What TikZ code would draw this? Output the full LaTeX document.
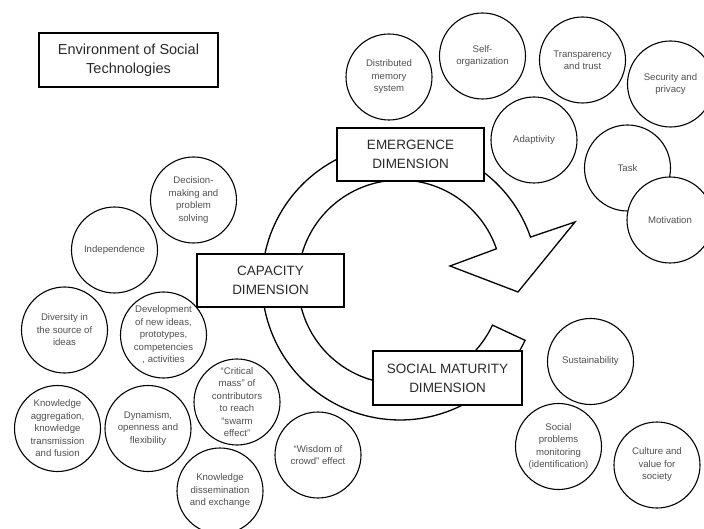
\documentclass[tikz,border=0pt]{standalone}
\usepackage{fontspec}
\setmainfont{Liberation Sans}
\definecolor{bubtxt}{HTML}{505050}
\definecolor{boxtxt}{HTML}{2A2A2A}
\begin{document}
\begin{tikzpicture}[x=1pt,y=-1pt,
  bubble/.style={circle, draw=black, line width=1.1pt, fill=white, minimum size=86pt,
    inner sep=0pt, align=center, font=\fontsize{9.6}{12.5}\selectfont, text=bubtxt},
  dimbox/.style={draw=black, line width=1.3pt, fill=white, minimum width=147pt,
    minimum height=53pt, inner sep=0pt, align=center, font=\fontsize{13.5}{19}\selectfont, text=boxtxt},
  ringline/.style={draw=black, line width=1.3pt, fill=white, line join=miter}]
\useasboundingbox (0,0) rectangle (704,529);
\clip (0,0) rectangle (704,529);

% environment box
\node[dimbox, minimum width=179pt, minimum height=54pt, font=\fontsize{14.5}{19}\selectfont] (env) at (128.5,60) {Environment of Social\\Technologies};

% circular arrow
\draw[ringline] plot[domain=-19:-335,samples=140] ({400+138*cos(\x)},{282+138*sin(\x)})
  -- plot[domain=25:341,samples=140] ({400+102*cos(\x)},{282+102*sin(\x)})
  -- (450,266) -- (518,292) -- (575,222) -- cycle;

% dimension boxes
\node[dimbox] (emerg) at (410.5,154.5) {EMERGENCE\\DIMENSION};
\node[dimbox] (capac) at (270.5,280.5) {CAPACITY\\DIMENSION};
\node[dimbox, minimum width=149pt, minimum height=54pt] (social) at (447.5,378) {SOCIAL MATURITY\\DIMENSION};

% emergence bubbles
\node[bubble] (dist) at (389,77) {Distributed\\memory\\system};
\node[bubble] (self) at (482.5,56) {Self-\\organization};
\node[bubble] (trans) at (582.5,60) {Transparency\\and trust};
\node[bubble] (secu) at (670.5,84) {Security and\\privacy};
\node[bubble] (adapt) at (534,140) {Adaptivity};
\node[bubble] (task) at (627.5,168) {Task};
\node[bubble] (motiv) at (670,220) {Motivation};

% capacity bubbles
\node[bubble] (decis) at (193.5,200) {Decision-\\making and\\problem\\solving};
\node[bubble] (indep) at (114.5,250) {Independence};
\node[bubble] (divers) at (64.5,330) {Diversity in\\the source of\\ideas};
\node[bubble] (devel) at (163.5,335) {Development\\of new ideas,\\prototypes,\\competencies\\, activities};
\node[bubble] (crit) at (237,402) {“Critical\\mass” of\\contributors\\to reach\\“swarm\\effect”};
\node[bubble] (knowagg) at (57.5,428.5) {Knowledge\\aggregation,\\knowledge\\transmission\\and fusion};
\node[bubble] (dynam) at (148,428.5) {Dynamism,\\openness and\\flexibility};
\node[bubble] (wisdom) at (318,455) {“Wisdom of\\crowd” effect};
\node[bubble] (dissem) at (220,491) {Knowledge\\dissemination\\and exchange};

% social maturity bubbles
\node[bubble] (sustain) at (590.5,361.5) {Sustainability};
\node[bubble] (socprob) at (558.5,446.5) {Social\\problems\\monitoring\\(identification)};
\node[bubble] (culture) at (657,465) {Culture and\\value for\\society};
\end{tikzpicture}
\end{document}
